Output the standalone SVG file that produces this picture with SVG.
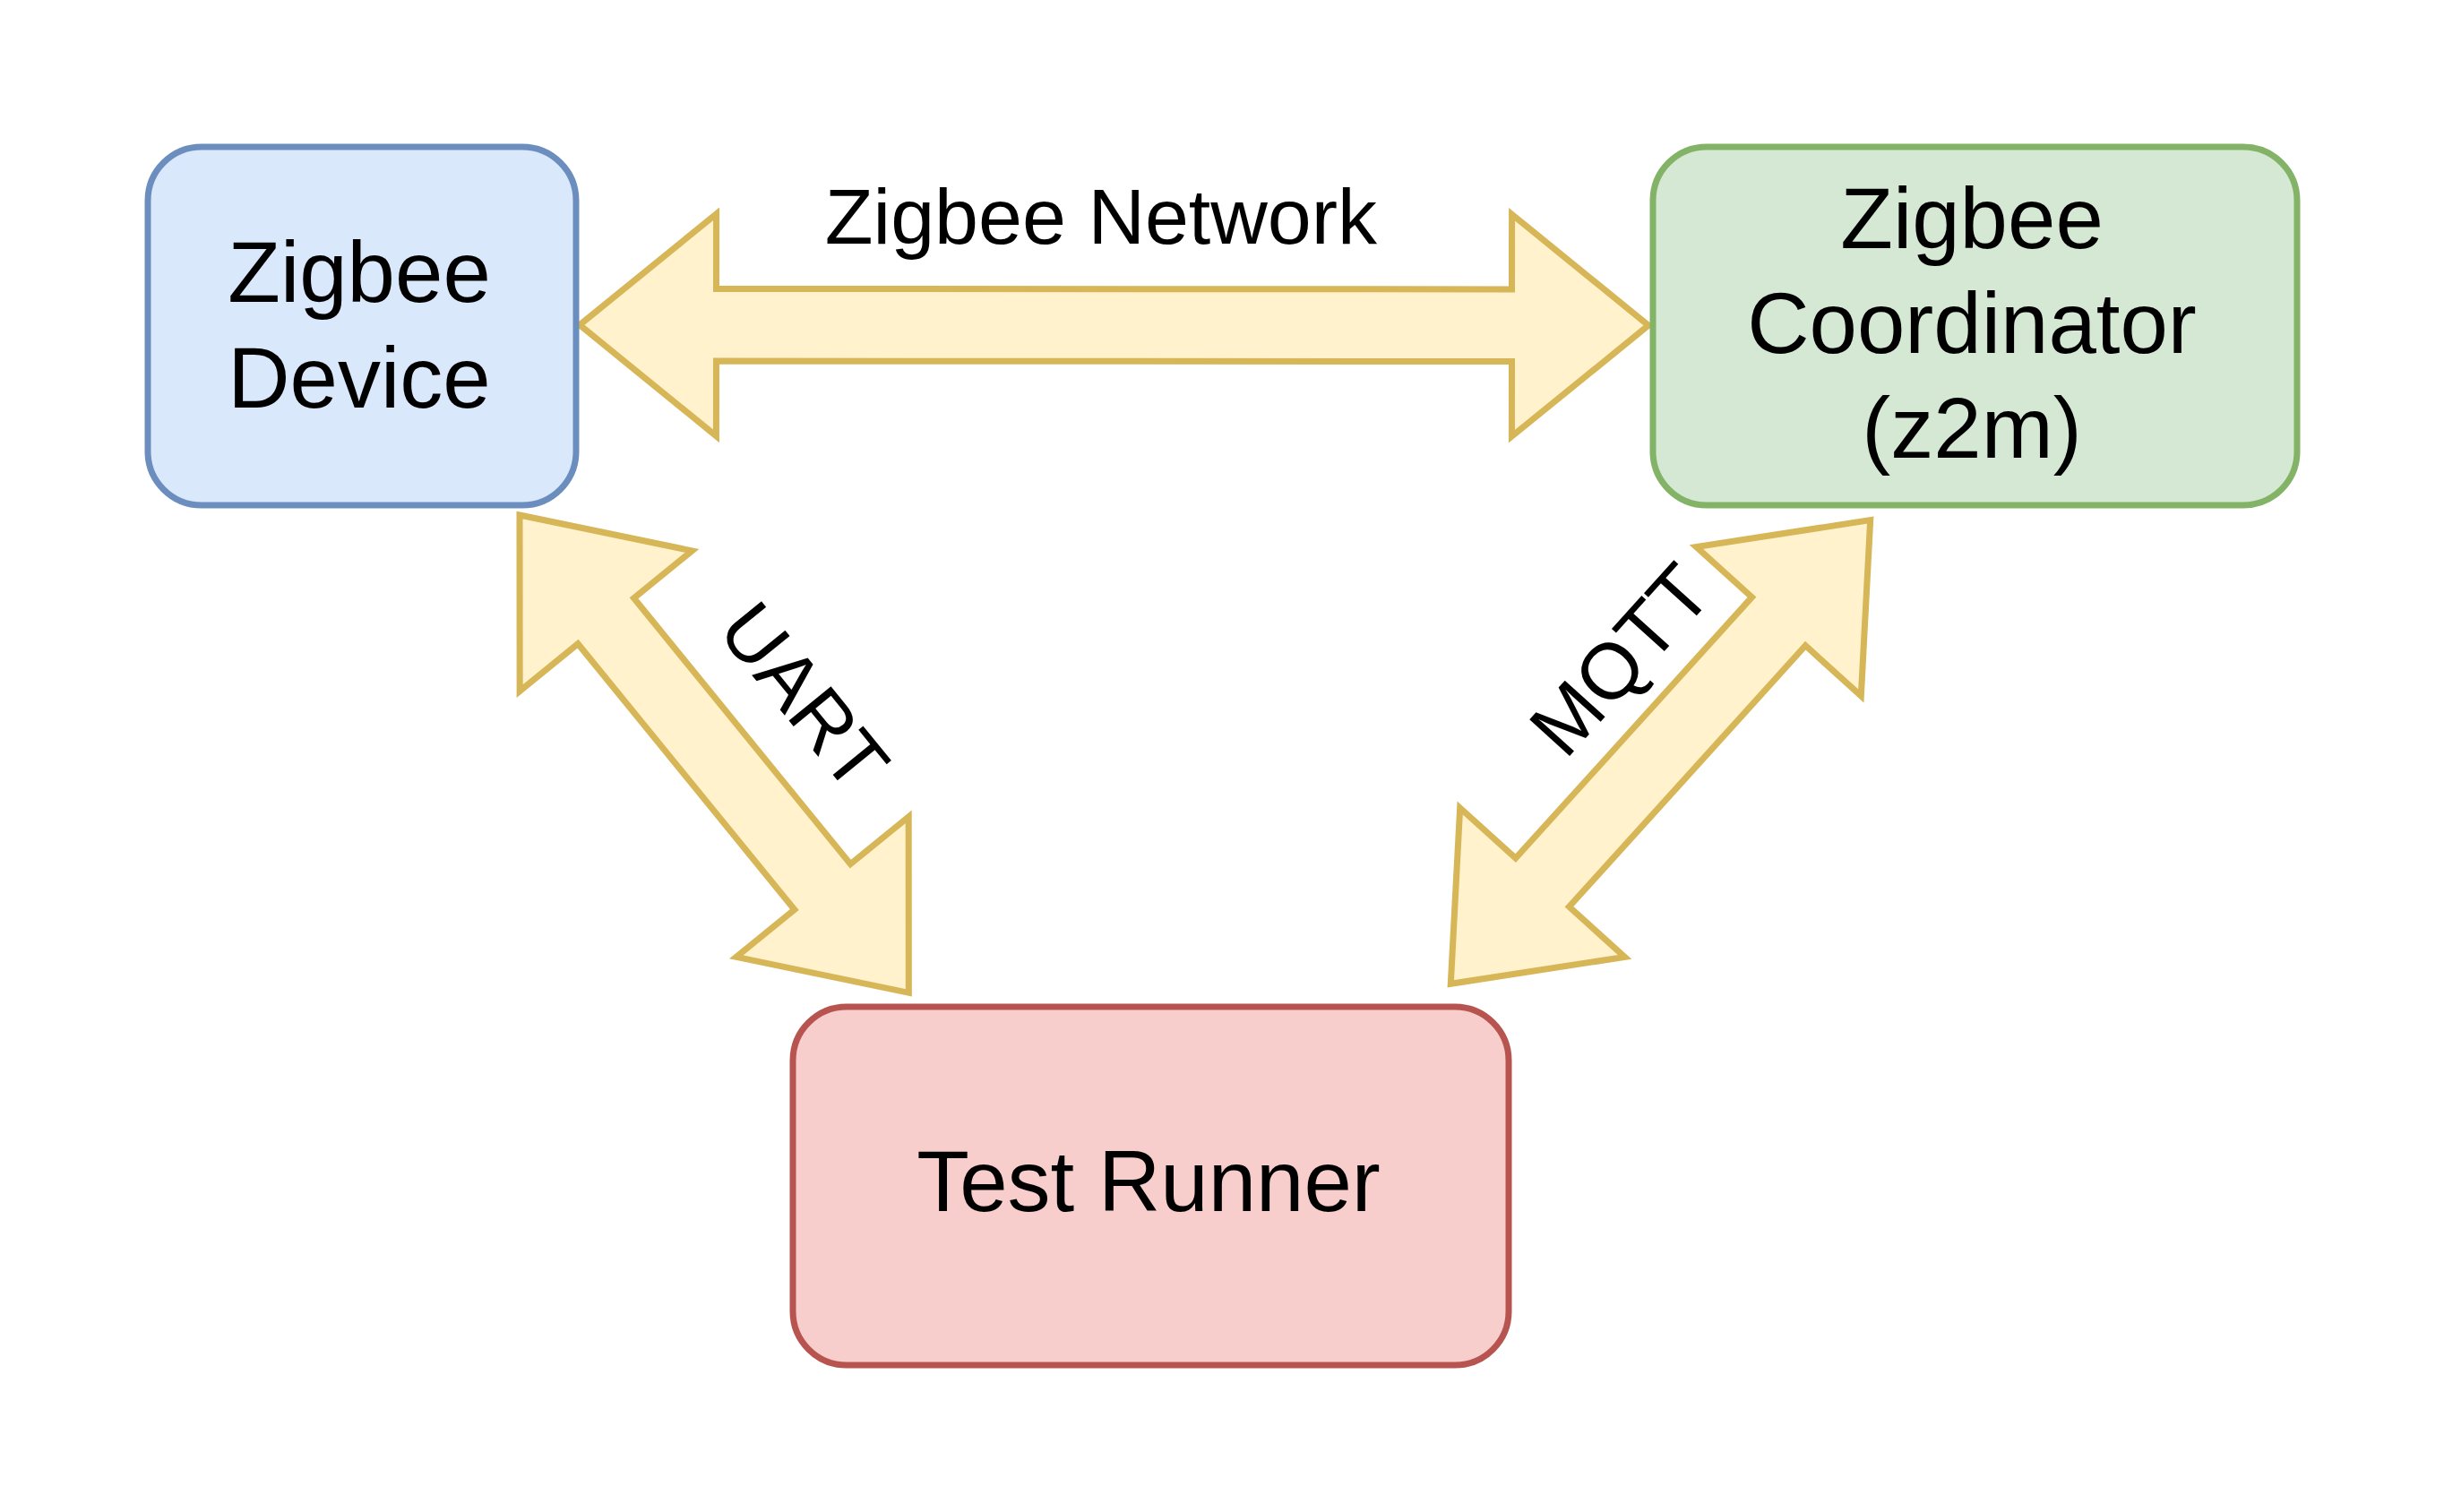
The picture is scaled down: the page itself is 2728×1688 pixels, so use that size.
<svg xmlns="http://www.w3.org/2000/svg" width="2728" height="1688" viewBox="0 0 2728 1688">
<style>
.box{stroke-width:7}
.arrow{fill:#fff2cc;stroke:#d6b656;stroke-width:7;stroke-miterlimit:10}
.t{font-family:"Liberation Sans",Arial,sans-serif;fill:#000;text-anchor:middle}
.nt{font-size:96px}
.lt{font-size:88px}
</style>
<rect width="2728" height="1688" fill="#ffffff"/>
<g id="connectors">
<g id="edge-network">
<polygon class="arrow" transform="translate(647,362.7) rotate(0.03)" points="0,0 152.5,-124 152.5,-40.3 1040.5,-40.3 1040.5,-124 1193,0 1040.5,124 1040.5,40.3 152.5,40.3 152.5,124"/>
<text class="t lt" x="1229" y="272">Zigbee Network</text>
</g>
<g id="edge-uart">
<polygon class="arrow" transform="translate(580,575) rotate(50.84)" points="0,0 152.5,-124 152.5,-40.3 535.3,-40.3 535.3,-124 687.8,0 535.3,124 535.3,40.3 152.5,40.3 152.5,124"/>
<text class="t lt" transform="translate(898,777) rotate(50.84)" x="0" y="31">UART</text>
</g>
<g id="edge-mqtt">
<polygon class="arrow" transform="translate(1619.3,1098.3) rotate(-47.86)" points="0,0 152.5,-124 152.5,-40.3 545.6,-40.3 545.6,-124 698.1,0 545.6,124 545.6,40.3 152.5,40.3 152.5,124"/>
<text class="t lt" transform="translate(1808,736) rotate(-47.86)" x="0" y="31">MQTT</text>
</g>
</g>
<g id="node-device">
<rect class="box" x="165" y="164" width="478" height="400" rx="60" ry="60" fill="#dae8fc" stroke="#6c8ebf"/>
<text class="t nt" x="401" y="337">Zigbee</text>
<text class="t nt" x="401" y="455">Device</text>
</g>
<g id="node-coordinator">
<rect class="box" x="1845" y="164" width="719" height="400" rx="60" ry="60" fill="#d5e8d4" stroke="#82b366"/>
<text class="t nt" x="2201" y="277">Zigbee</text>
<text class="t nt" x="2201" y="394">Coordinator</text>
<text class="t nt" x="2201" y="511">(z2m)</text>
</g>
<g id="node-runner">
<rect class="box" x="885" y="1124" width="799" height="400" rx="60" ry="60" fill="#f8cecc" stroke="#b85450"/>
<text class="t nt" x="1282" y="1352">Test Runner</text>
</g>
</svg>
